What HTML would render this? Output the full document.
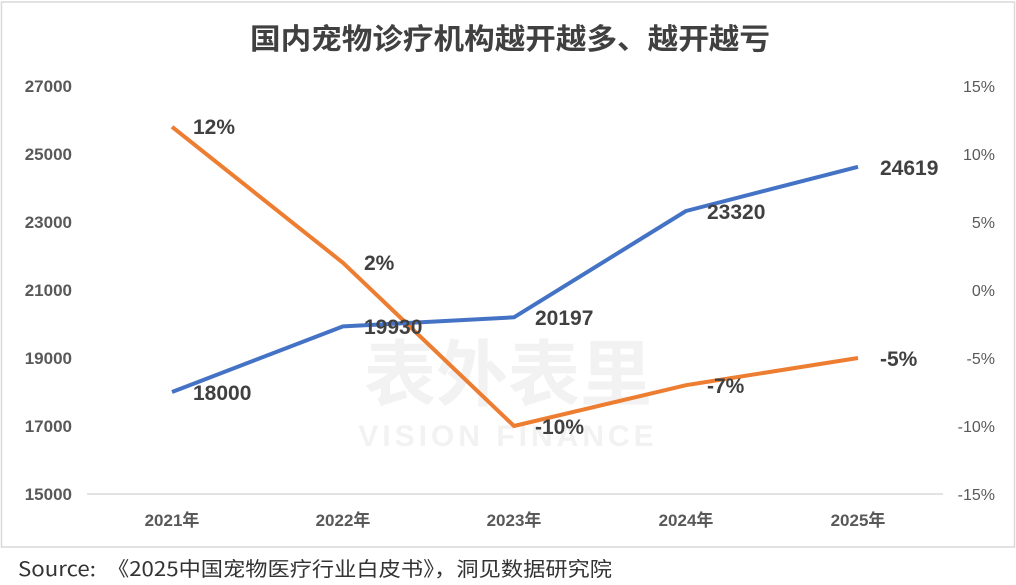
<!DOCTYPE html>
<html><head><meta charset="utf-8"><style>
body{margin:0;background:#fff;width:1016px;height:585px;overflow:hidden;font-family:"Liberation Sans","Noto Sans CJK SC",sans-serif}
</style></head><body>
<svg width="1016" height="585" xmlns="http://www.w3.org/2000/svg" style="position:absolute;left:0;top:0">
<rect x="1.5" y="2" width="1013" height="545" fill="#fff" stroke="#d9d9d9" stroke-width="1.5"/>
<text x="250" y="49" textLength="520" lengthAdjust="spacingAndGlyphs" font-size="29" font-weight="bold" fill="#404040" font-family="Noto Sans CJK SC, sans-serif">国内宠物诊疗机构越开越多、越开越亏</text>
<g font-size="17" fill="#595959" font-weight="bold">
<text x="72" y="92" text-anchor="end">27000</text>
<text x="72" y="160" text-anchor="end">25000</text>
<text x="72" y="228" text-anchor="end">23000</text>
<text x="72" y="296" text-anchor="end">21000</text>
<text x="72" y="364" text-anchor="end">19000</text>
<text x="72" y="432" text-anchor="end">17000</text>
<text x="72" y="500" text-anchor="end">15000</text>
</g>
<g font-size="16" fill="#595959" text-anchor="end">
<text x="995" y="92">15%</text>
<text x="995" y="160">10%</text>
<text x="995" y="228">5%</text>
<text x="995" y="296">0%</text>
<text x="995" y="364">-5%</text>
<text x="995" y="432">-10%</text>
<text x="995" y="500">-15%</text>
</g>
<line x1="87" y1="494" x2="943" y2="494" stroke="#d9d9d9" stroke-width="1.5"/>
<g font-size="17" fill="#595959" text-anchor="middle" font-weight="bold">
<text x="172" y="526">2021年</text>
<text x="343" y="526">2022年</text>
<text x="514" y="526">2023年</text>
<text x="686" y="526">2024年</text>
<text x="858" y="526">2025年</text>
</g>
<text x="508" y="400" text-anchor="middle" font-size="72" font-weight="bold" fill="#f2f2f2">表外表里</text>
<text x="508" y="446" text-anchor="middle" font-size="30" font-weight="bold" fill="#f2f2f2" letter-spacing="4">VISION FINANCE</text>
<polyline points="172,126.8 343,262.8 514,426 686,385.2 858,358" fill="none" stroke="#ed7d31" stroke-width="4" stroke-linejoin="round"/>
<polyline points="172,392 343,326.4 514,317.3 686,211 858,166.8" fill="none" stroke="#4472c4" stroke-width="4" stroke-linejoin="round"/>
<g font-size="21" fill="#404040" font-weight="bold">
<text x="193" y="400">18000</text>
<text x="364" y="334">19930</text>
<text x="535" y="325">20197</text>
<text x="707" y="219">23320</text>
<text x="880" y="175">24619</text>
<text x="193" y="134">12%</text>
<text x="364" y="270">2%</text>
<text x="535" y="434">-10%</text>
<text x="707" y="393">-7%</text>
<text x="880" y="366">-5%</text>
</g>
<text x="18" y="576" textLength="594" lengthAdjust="spacingAndGlyphs" font-size="20" fill="#333" font-family="Noto Sans CJK SC, sans-serif">Source:　《2025中国宠物医疗行业白皮书》，洞见数据研究院</text>
</svg>
</body></html>
